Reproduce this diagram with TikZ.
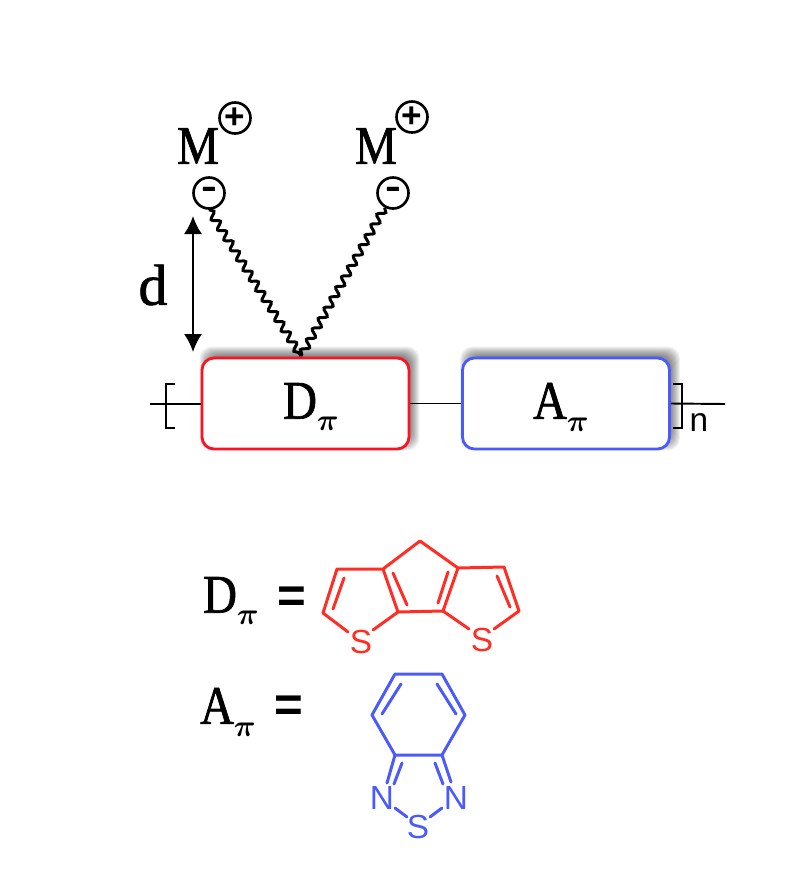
\documentclass[tikz,border=0pt]{standalone}
\usepackage{amsmath}
\usepackage{fontspec}
\setmainfont{Liberation Serif}
\newfontfamily\labelfont[FakeBold=1.2,FakeStretch=0.86]{Liberation Serif}
\newfontfamily\distfont[FakeBold=1.2]{Liberation Serif}
\newfontfamily\atomfont{Liberation Sans}
\usetikzlibrary{calc,arrows.meta,backgrounds,decorations.pathmorphing}
\definecolor{dred}{RGB}{250,20,35}
\definecolor{dchem}{RGB}{255,45,35}
\definecolor{ablue}{RGB}{75,90,250}
\newcommand{\boxshadow}[1]{
    \begin{scope}[on background layer]
        \foreach \s in {5,4,...,-4}
            \fill[black,opacity=.06,rounded corners=12*0.02cm]
                ($(#1.south west)+(4-\s,-5+\s)$) rectangle ($(#1.north east)+(4+\s,-5-\s)$);
    \end{scope}
}
\newcommand{\sub}{\raisebox{-7pt}{\fontsize{27}{27}\selectfont$\scriptstyle\boldsymbol{\pi}$}}
\newcommand{\minussign}{\raisebox{-3pt}{\scalebox{1.35}[1]{-}}}
\begin{document}
\begin{tikzpicture}[x=0.02cm,y=-0.02cm,
        unit/.style={draw,fill=white,line width=1.6pt,rounded corners=12*0.02cm,minimum width=207*0.02cm,minimum height=91*0.02cm,inner sep=0pt},
        big/.style={font=\labelfont\fontsize{31}{31}\selectfont,inner sep=0pt},
        eqsign/.style={font=\atomfont\bfseries\fontsize{28}{28}\selectfont,inner sep=0pt},
        charge/.style={draw,circle,line width=1.5pt,minimum size=31*0.02cm,inner sep=0pt,font=\atomfont\bfseries\fontsize{20}{20}\selectfont},
        wavy/.style={line width=1.7pt,decorate,decoration={snake,amplitude=2pt,segment length=6.8pt}},
        atom/.style={font=\atomfont\fontsize{19}{19}\selectfont,inner sep=0pt},
        bond/.style={line width=1.7pt,line cap=round,line join=round}]
    \useasboundingbox (0,0) rectangle (795,886);

    % polymer repeat unit
    \node[unit,draw=dred]  (dbox) at (305.5,403.5) {};
    \node[unit,draw=ablue] (abox) at (566,403.5) {};
    \boxshadow{dbox}
    \boxshadow{abox}
    \node[big] (dtext) at (311,407) {D\sub};
    \node[big] (atext) at (561,407) {A\sub};
    \coordinate (chainl) at (150,404);
    \coordinate (chainr) at (725,404);
    \draw[line width=1.1pt] (chainl) -- (chainl -| dbox.west);
    \draw[line width=1.1pt] (dbox.east) -- (abox.west);
    \draw[line width=1.1pt] (abox.east) -- (chainr);
    \draw[line width=1.4pt] (175,384) -- (166,384) -- (166,428) -- (175,428);
    \draw[line width=1.4pt] (673,384) -- (682,384) -- (682,428) -- (673,428);
    \node[font=\atomfont\fontsize{19}{19}\selectfont,inner sep=0pt] (nlabel) at (699,423) {n};

    % side chains
    \node[big] (m1) at (198,146) {M};
    \node[big] (m2) at (376,146) {M};
    \node[charge] (plus1) at (235,118) {+};
    \node[charge] (plus2) at (412,117) {+};
    \node[charge] (minus1) at (209,193) {\minussign};
    \node[charge] (minus2) at (393,193) {\minussign};
    \coordinate (dock) at (301,356);
    \draw[wavy] (minus1.south) -- (dock);
    \draw[wavy] (minus2.240) -- (dock);

    % distance
    \coordinate (dtop) at (193,216);
    \coordinate (dbot) at (193,352);
    \draw[{Latex[length=3.6mm,width=3.6mm]}-{Latex[length=3.6mm,width=3.6mm]},line width=1.1pt] (dtop) -- (dbot);
    \node[big,font=\distfont\fontsize{33}{33}\selectfont] (dlabel) at (153,285) {d};

    % donor
    \node[big] (deq) at (231,601) {D\sub};
    \node[eqsign] (dsign) at (292,600) {=};
    \begin{scope}[bond,draw=dchem]
        \coordinate (d1) at (420,541);
        \coordinate (d2) at (383,569);
        \coordinate (d3) at (458,568);
        \coordinate (d4) at (398,612);
        \coordinate (d5) at (443,611);
        \coordinate (d6) at (337,569);
        \coordinate (d7) at (323,613);
        \coordinate (d8) at (504,567);
        \coordinate (d9) at (519,611);
        \node[atom,text=dchem] (s1) at (361,642) {S};
        \node[atom,text=dchem] (s2) at (482,640) {S};
        \draw (d2) -- (d1) -- (d3) -- (d5) -- (d4) -- (d2) -- (d6) -- (d7);
        \draw (d3) -- (d8) -- (d9);
        \draw (d7) -- (348,632);
        \draw (d4) -- (373,630);
        \draw (d5) -- (469,629);
        \draw (d9) -- (494,629);
        \draw (344,578) -- (333,609);
        \draw (393,573) -- (407,605);
        \draw (448,572) -- (438,603);
        \draw (497,576) -- (510,607);
    \end{scope}

    % acceptor
    \node[big] (aeq) at (228,712) {A\sub};
    \node[eqsign] (asign) at (289,709) {=};
    \begin{scope}[bond,draw=ablue]
        \coordinate (a1) at (395,674);
        \coordinate (a2) at (442,674);
        \coordinate (a3) at (465,715);
        \coordinate (a4) at (442,755);
        \coordinate (a5) at (395,755);
        \coordinate (a6) at (372,715);
        \node[atom,text=ablue] (n1) at (382,798) {N};
        \node[atom,text=ablue] (n2) at (456,798) {N};
        \node[atom,text=ablue] (s3) at (418,827) {S};
        \draw (a1) -- (a2) -- (a3) -- (a4) -- (a5) -- (a6) -- cycle;
        \draw (401,684) -- (382,714);
        \draw (437,684) -- (456,714);
        \draw (a5) -- (387,783);
        \draw (402,763) -- (394,784);
        \draw (a4) -- (451,782);
        \draw (435,763) -- (443,784);
        \draw (395,808) -- (407,817);
        \draw (442,808) -- (430,817);
    \end{scope}
\end{tikzpicture}
\end{document}
